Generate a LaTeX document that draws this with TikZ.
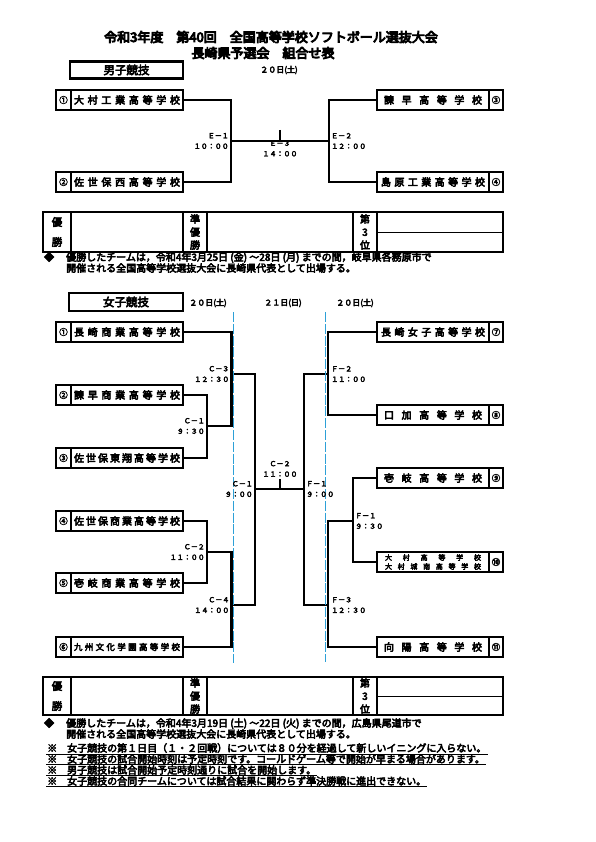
\documentclass[tikz,border=0pt]{standalone}
\usepackage{fontspec}
\newfontfamily\jp{Noto Sans CJK JP}[FakeBold=5]
\newfontfamily\jpheavy{Noto Sans CJK JP}[FakeBold=7]
\usetikzlibrary{positioning}
\definecolor{daycol}{RGB}{45,160,215}

\begin{document}
\begin{tikzpicture}[x=1pt,y=-1pt,
    namebox/.style={draw,line width=1.7pt,minimum height=20pt,minimum width=112pt,inner sep=0pt,outer sep=0pt,font=\jp\fontsize{10}{11}\selectfont},
    numbox/.style={namebox,minimum width=15pt,font=\jp\fontsize{8.5}{9}\selectfont},
    headbox/.style={draw,line width=2.2pt,minimum width=113pt,minimum height=17pt,inner sep=0pt,font=\jp\fontsize{11.5}{12}\selectfont},
    date/.style={font=\jp\fontsize{8}{8}\selectfont},
    game/.style={font=\jp\fontsize{7}{10.5}\selectfont,inner sep=1pt},
    bline/.style={line width=2.4pt},
    tick/.style={line width=1.4pt},
    dayline/.style={daycol,line width=1.6pt,dash pattern=on 10pt off 1.8pt},
    cell/.style={font=\jp\fontsize{10.5}{20}\selectfont,align=center,inner sep=0pt},
    cellthree/.style={font=\jp\fontsize{10}{13}\selectfont,align=center,inner sep=0pt},
    note/.style={font=\jp\fontsize{10}{11}\selectfont,inner sep=0pt,anchor=west,align=left}]
\useasboundingbox (0,0) rectangle (595,842);

\node[font=\jpheavy\fontsize{13}{13}\selectfont] (title1) at (271,37) {令和3年度　第40回　全国高等学校ソフトボール選抜大会};
\node[font=\jpheavy\fontsize{13}{13}\selectfont] (title2) at (263,53) {長崎県予選会　組合せ表};

% 男子
\node[headbox] (mhead) at (126.5,70) {男子競技};
\node[date] (mday) at (279,70) {２０日(土)};

\node[namebox] (m1) at (127,100) {\makebox[106pt][s]{大 村 工 業 高 等 学 校}};
\node[numbox,left=0pt of m1] (m1n) {①};
\node[namebox] (m2) at (127,182) {\makebox[106pt][s]{佐 世 保 西 高 等 学 校}};
\node[numbox,left=0pt of m2] (m2n) {②};
\node[namebox] (m3) at (433,100) {\makebox[98pt][s]{諫 早 高 等 学 校}};
\node[numbox,minimum width=14pt,right=0pt of m3] (m3n) {③};
\node[namebox] (m4) at (433,182) {\makebox[104pt][s]{島 原 工 業 高 等 学 校}};
\node[numbox,minimum width=14pt,right=0pt of m4] (m4n) {④};

\coordinate (e1) at (231,141);
\coordinate (e2) at (329,141);
\coordinate (e3) at (280,130);
\draw[bline] (m1.east) -| (e1) |- (m2.east);
\draw[bline] (m3.west) -| (e2) |- (m4.west);
\draw[bline] (e1) -- (e2);
\draw[tick] (e3) -- (e3 |- e1);
\node[game,align=right,left=1pt of e1] (e1lab) {Ｅ－１\\１０：００};
\node[game,align=left,right=1pt of e2] (e2lab) {Ｅ－２\\１２：００};
\node[game,align=center] (e3lab) at (280,148.5) {Ｅ－３\\１４：００};

\draw[line width=2pt] (43,212) rectangle (503,252);
\draw[line width=1.5pt] (71,212) -- (71,252) (183,212) -- (183,252) (207,212) -- (207,252)
  (353,212) -- (353,252) (377,212) -- (377,252);
\draw[line width=1pt] (377,232) -- (503,232);
\node[cell] (mwin) at (57,232) {優\\勝};
\node[cellthree] (msecond) at (195,232) {準\\優\\勝};
\node[cellthree] (mthird) at (365,232) {第\\3\\位};

\node[note] (mbul) at (44,257) {◆};
\node[note] (mnote) at (66,262.5) {優勝したチームは，令和4年3月25日 (金) ～28日 (月) までの間，岐阜県各務原市で\\開催される全国高等学校選抜大会に長崎県代表として出場する。};

% 女子
\node[headbox,minimum width=114pt,minimum height=18pt] (whead) at (126,302) {女子競技};
\node[date] (wday1) at (208,303) {２０日(土)};
\node[date] (wday2) at (283,303) {２１日(日)};
\node[date] (wday3) at (355,303) {２０日(土)};

\node[namebox] (w1) at (127,332) {\makebox[106pt][s]{長 崎 商 業 高 等 学 校}};
\node[numbox,left=0pt of w1] (w1n) {①};
\node[namebox] (w2) at (127,395) {\makebox[106pt][s]{諫 早 商 業 高 等 学 校}};
\node[numbox,left=0pt of w2] (w2n) {②};
\node[namebox] (w3) at (127,458) {\makebox[106pt][s]{佐 世 保 東 翔 高 等 学 校}};
\node[numbox,left=0pt of w3] (w3n) {③};
\node[namebox] (w4) at (127,521) {\makebox[106pt][s]{佐 世 保 商 業 高 等 学 校}};
\node[numbox,left=0pt of w4] (w4n) {④};
\node[namebox] (w5) at (127,583) {\makebox[106pt][s]{壱 岐 商 業 高 等 学 校}};
\node[numbox,left=0pt of w5] (w5n) {⑤};
\node[namebox,font=\jp\fontsize{8.5}{9}\selectfont] (w6) at (127,647) {\makebox[106pt][s]{九 州 文 化 学 園 高 等 学 校}};
\node[numbox,left=0pt of w6] (w6n) {⑥};

\node[namebox] (w7) at (433,332) {\makebox[104pt][s]{長 崎 女 子 高 等 学 校}};
\node[numbox,minimum width=14pt,right=0pt of w7] (w7n) {⑦};
\node[namebox] (w8) at (433,415) {\makebox[98pt][s]{口 加 高 等 学 校}};
\node[numbox,minimum width=14pt,right=0pt of w8] (w8n) {⑧};
\node[namebox] (w9) at (433,478) {\makebox[98pt][s]{壱 岐 高 等 学 校}};
\node[numbox,minimum width=14pt,right=0pt of w9] (w9n) {⑨};
\node[namebox,align=center,font=\jp\fontsize{7}{9}\selectfont] (w10) at (433,562)
  {\makebox[96pt][s]{大 村 高 等 学 校}\\\makebox[96pt][s]{大 村 城 南 高 等 学 校}};
\node[numbox,minimum width=14pt,right=0pt of w10] (w10n) {⑩};
\node[namebox] (w11) at (433,647) {\makebox[98pt][s]{向 陽 高 等 学 校}};
\node[numbox,minimum width=14pt,right=0pt of w11] (w11n) {⑪};

\coordinate (c1) at (207,426);
\coordinate (c2) at (207,552);
\coordinate (j3) at (231.5,374);
\coordinate (j4) at (231.5,605);
\coordinate (jl) at (255,489);
\coordinate (jr) at (304,489);
\coordinate (ct) at (280,479);
\coordinate (f2) at (328,374);
\coordinate (f1) at (353,521);
\coordinate (f3) at (328,605);

\draw[bline] (w2.east) -| (c1) |- (w3.east);
\draw[bline] (w1.east) -| (j3) |- (c1);
\draw[bline] (w4.east) -| (c2) |- (w5.east);
\draw[bline] (c2) -| (j4) |- (w6.east);
\draw[bline] (j3) -| (jl) -- (jr) |- (f2);
\draw[bline] (j4) -| (jl);
\draw[bline] (f3) -| (jr);
\draw[bline] (w7.west) -| (f2) |- (w8.west);
\draw[bline] (w9.west) -| (f1) |- (w10.west);
\draw[bline] (f1) -| (f3) |- (w11.west);
\draw[tick] (ct) -- (ct |- jl);

\draw[dayline] (233.5,312) -- (233.5,663);
\draw[dayline] (325.5,312) -- (325.5,662);

\node[game,align=right,left=1pt of c1] (c1lab) {Ｃ－１\\９：３０};
\node[game,align=right,left=1pt of j3] (c3lab) {Ｃ－３\\１２：３０};
\node[game,align=right,left=1pt of c2] (c2lab) {Ｃ－２\\１１：００};
\node[game,align=right,left=1pt of j4] (c4lab) {Ｃ－４\\１４：００};
\node[game,align=right,left=1pt of jl] (cllab) {Ｃ－１\\９：００};
\node[game,align=left,right=1pt of jr] (frlab) {Ｆ－１\\９：００};
\node[game,align=center,above=1pt of ct] (ctlab) {Ｃ－２\\１１：００};
\node[game,align=left,right=2pt of f2] (f2lab) {Ｆ－２\\１１：００};
\node[game,align=left,right=1pt of f1] (f1lab) {Ｆ－１\\９：３０};
\node[game,align=left,right=2pt of f3] (f3lab) {Ｆ－３\\１２：３０};

\draw[line width=2pt] (43,677) rectangle (503,715);
\draw[line width=1.5pt] (71,677) -- (71,715) (183,677) -- (183,715) (207,677) -- (207,715)
  (353,677) -- (353,715) (377,677) -- (377,715);
\draw[line width=1pt] (377,696) -- (503,696);
\node[cell] (wwin) at (57,696) {優\\勝};
\node[cellthree] (wsecond) at (195,696) {準\\優\\勝};
\node[cellthree] (wthird) at (365,696) {第\\3\\位};

\node[note] (wbul) at (44,723) {◆};
\node[note] (wnote) at (66,728.5) {優勝したチームは，令和4年3月19日 (土) ～22日 (火) までの間，広島県尾道市で\\開催される全国高等学校選抜大会に長崎県代表として出場する。};

\node[note,inner sep=1pt] (k1) at (46,748) {※　女子競技の第１日目（１・２回戦）については８０分を経過して新しいイニングに入らない。};
\node[note,inner sep=1pt] (k2) at (46,759) {※　女子競技の試合開始時刻は予定時刻です。コールドゲーム等で開始が早まる場合があります。};
\node[note,inner sep=1pt] (k3) at (46,770) {※　男子競技は試合開始予定時刻通りに試合を開始します。};
\node[note,inner sep=1pt] (k4) at (46,781) {※　女子競技の合同チームについては試合結果に関わらず準決勝戦に進出できない。};
\draw[line width=0.8pt] (k1.south west) -- (k1.south east);
\draw[line width=0.8pt] (k2.south west) -- (k2.south east);
\draw[line width=0.8pt] (k3.south west) -- (k3.south east);
\draw[line width=0.8pt] (k4.south west) -- (k4.south east);
\end{tikzpicture}
\end{document}
